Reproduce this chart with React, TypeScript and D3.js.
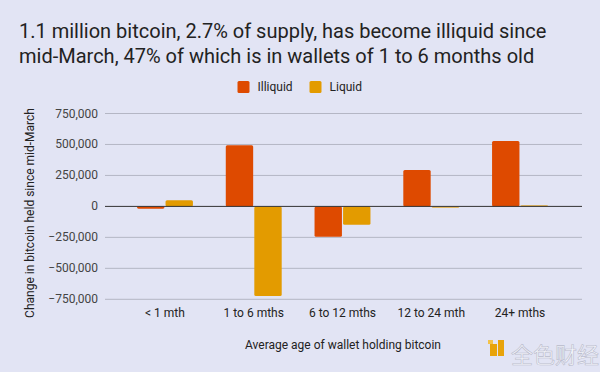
import React from "react";
import * as d3 from "d3";

const categories = ["< 1 mth", "1 to 6 mths", "6 to 12 mths", "12 to 24 mth", "24+ mths"];
const seriesNames = ["Illiquid", "Liquid"];
const illiquid = [-18000, 494000, -245000, 293000, 527000];
const liquid = [50000, -723000, -148000, -5000, 9000];
const yTicks = [750000, 500000, 250000, 0, -250000, -500000, -750000];
const colors = ["#DE4A00", "#E39B00"];

const W = 600, H = 372;
const plotLeft = 105, plotRight = 582;

export default function App() {
  const y = d3.scaleLinear().domain([-750000, 750000]).range([299.3, 113.5]);
  const x = d3.scaleBand().domain(categories).range([120.6, 564.4]).paddingInner(0.37).paddingOuter(0.185);
  const sub = d3.scaleBand().domain(seriesNames).range([0, x.bandwidth()]).paddingInner(0.04);
  const fmt = d3.format(",");
  const series = [illiquid, liquid];
  const font = "Roboto, 'Open Sans', sans-serif";

  return (
    <svg width={W} height={H} style={{ position: "absolute", left: 0, top: 0, fontFamily: font }}>
      <rect x={0} y={0} width={W} height={H} fill="#E2E4F4" />
      <text x={19} y={38} fontSize={20} fill="#222">1.1 million bitcoin, 2.7% of supply, has become illiquid since</text>
      <text x={19} y={63} fontSize={20} fill="#222">mid-March, 47% of which is in wallets of 1 to 6 months old</text>
      {seriesNames.map((s, i) => {
        const lx = [237.5, 309.5][i];
        return (
          <g key={s}>
            <rect x={lx} y={81} width={12} height={12} rx={1.5} fill={colors[i]} />
            <text x={lx + 20} y={91} fontSize={12} fill="#222">{s}</text>
          </g>
        );
      })}
      {yTicks.map((t) => (
        <g key={t}>
          {t !== 0 && <line x1={plotLeft} x2={plotRight} y1={y(t)} y2={y(t)} stroke="#B4B6C4" strokeWidth={1} />}
          <text x={98} y={y(t) + 4} fontSize={12} textAnchor="end" fill="#444">{fmt(t)}</text>
        </g>
      ))}
      {categories.map((c, ci) => (
        <g key={c}>
          {series.map((vals, si) => {
            const v = vals[ci];
            const bx = (x(c) ?? 0) + (sub(seriesNames[si]) ?? 0);
            const y0 = y(Math.max(0, v));
            const h = Math.max(1.5, Math.abs(y(v) - y(0)));
            const small = Math.abs(v) < 15000;
            return (
              <rect key={si} x={bx} y={v >= 0 ? y(0) - h : y0} width={sub.bandwidth()} height={h} rx={1.5}
                fill={colors[si]} opacity={small ? 0.6 : 1} />
            );
          })}
          <text x={(x(c) ?? 0) + x.bandwidth() / 2} y={317} fontSize={12} textAnchor="middle" fill="#222">{c}</text>
        </g>
      ))}
      <line x1={plotLeft} x2={plotRight} y1={y(0)} y2={y(0)} stroke="#333" strokeWidth={1} />
      <text x={343} y={349} fontSize={12} textAnchor="middle" fill="#222">Average age of wallet holding bitcoin</text>
      <text transform={`translate(34,213) rotate(-90)`} fontSize={12} textAnchor="middle" fill="#222">Change in bitcoin held since mid-March</text>
      <g>
        <rect x={490} y={344} width={7} height={12} fill="#E8A30A" />
        <rect x={498} y={340} width={6} height={16} fill="#E8A30A" />
        <rect x={488} y={340} width={5} height={4} fill="#F3C24A" />
        <text x={511} y={363} fontSize={22} fill="#F4F5FB" stroke="#B8BACB" strokeWidth={0.6} fontFamily="'Noto Sans CJK SC', sans-serif">全色财经</text>
      </g>
    </svg>
  );
}
